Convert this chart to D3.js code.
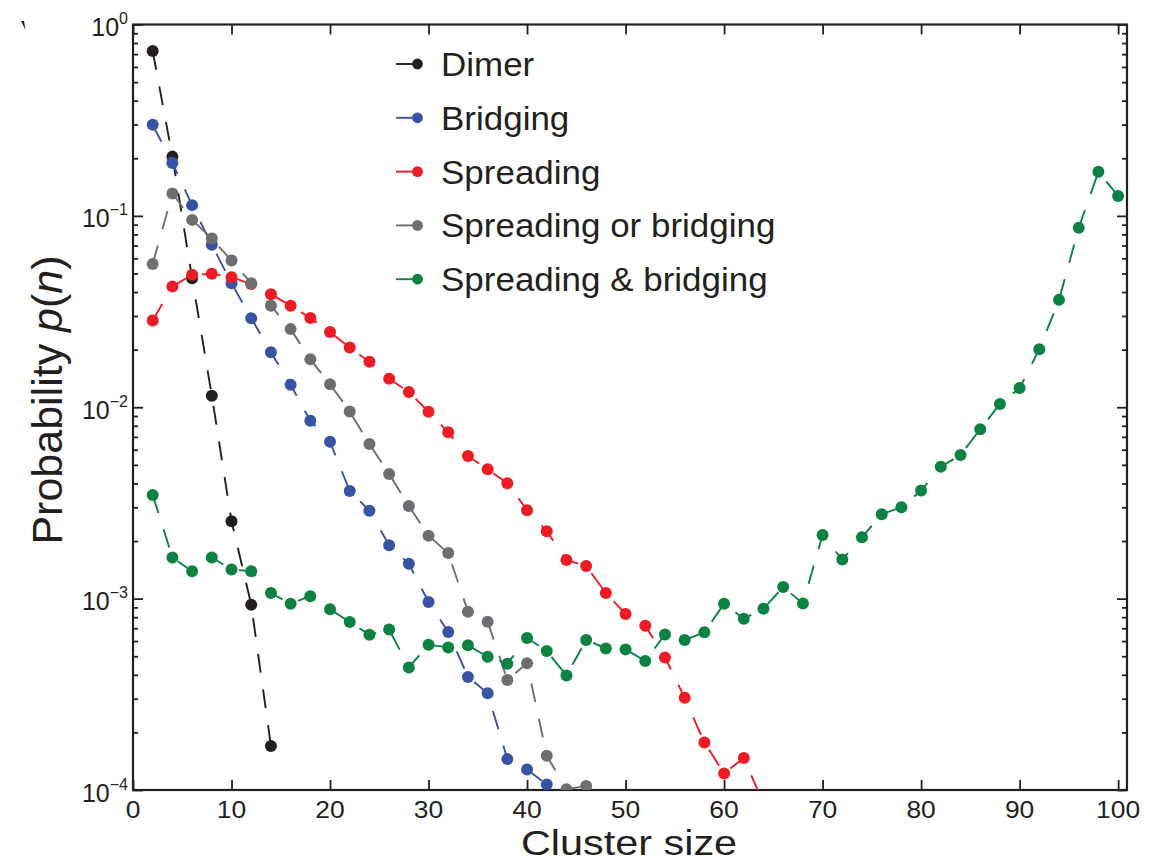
<!DOCTYPE html>
<html><head><meta charset="utf-8">
<script src="https://cdn.jsdelivr.net/npm/d3@7"></script>
<style>
html,body{margin:0;padding:0;background:#fff;}
svg{display:block;font-family:"Liberation Sans",Arial,Helvetica,sans-serif;}
</style></head>
<body>
<svg id="chart" width="1162" height="863"></svg>
<script>
// ---------- data ----------
const clusterSizes = [2,4,6,8,10,12,14,16,18,20,22,24,26,28,30,32,34,36,38,40,42,44,46,48,50,
  52,54,56,58,60,62,64,66,68,70,72,74,76,78,80,82,84,86,88,90,92,94,96,98,100];
const seriesNames = ["Dimer","Bridging","Spreading","Spreading or bridging","Spreading & bridging"];
const seriesColors = ["#231f20","#3853a4","#ed1c24","#6d6e71","#0b8142"];
const dimer = [0.726,0.204,0.0472,0.0115,0.00254,0.00093,0.00017];
const bridging = [0.299,0.189,0.1138,0.0706,0.0445,0.0292,0.0194,0.0131,0.0085,0.0066,0.00365,
  0.00288,0.0019,0.00152,0.00096,0.00067,0.00039,0.00032,0.000145,0.000128,0.000107];
const spreading = [0.0284,0.0428,0.0492,0.0498,0.0478,0.044,0.039,0.0339,0.0293,0.0247,0.0205,
  0.0173,0.0141,0.0120,0.00947,0.0074,0.00556,0.00474,0.00401,0.0029,0.00225,0.00159,0.00148,
  0.00107,0.000831,0.000722,0.000493,0.000303,0.000177,0.000122,0.000147,0.000085];
const spreadingOrBridging = [0.0561,0.131,0.0953,0.0761,0.0584,0.0445,0.0339,0.0256,0.0178,0.0132,
  0.0095,0.00643,0.00448,0.00305,0.00213,0.00173,0.000855,0.000757,0.000376,0.000459,0.000151,
  0.000101,0.000105];
const spreadingAndBridging = [0.00348,0.00164,0.00139,0.00164,0.00142,0.00139,0.00107,0.00094,0.00103,
  0.00088,0.000755,0.000648,0.00069,0.000437,0.000574,0.000556,0.00057,0.000497,0.000457,0.000623,
  0.000532,0.000397,0.000608,0.000549,0.000543,0.000472,0.00065,0.000608,0.000667,0.00094,0.000785,
  0.000885,0.00115,0.000944,0.00215,0.0016,0.00209,0.00276,0.003,0.00367,0.00489,0.00563,0.00767,
  0.0104,0.0126,0.0201,0.0364,0.0866,0.170,0.127];
const seriesValues = [dimer,bridging,spreading,spreadingOrBridging,spreadingAndBridging];
const xTickValues = [0,10,20,30,40,50,60,70,80,90,100];
const yTickExponents = [0,-1,-2,-3,-4];
const xLabel = "Cluster size";

// ---------- layout ----------
const L = 133, R = 1127, T = 24.5, B = 790;
const svg = d3.select("#chart");
const x = d3.scaleLinear().domain([0,100.9]).range([L,R]);
const y = d3.scaleLog().domain([1e-4,1]).range([B,T]);
const axisColor = "#231f20";

svg.append("defs").append("clipPath").attr("id","plotclip")
  .append("rect").attr("x",L).attr("y",T).attr("width",R-L).attr("height",B-T);

// minor ticks for log axis
const minorVals = [];
for (let e=-4;e<0;e++) for (let m=2;m<=9;m++) minorVals.push(m*Math.pow(10,e));

// bottom & top axes (ticks inward)
svg.append("g").attr("transform",`translate(0,${B})`).call(d3.axisBottom(x).tickValues(xTickValues).tickSize(-10).tickFormat(""));
svg.append("g").attr("transform",`translate(0,${T})`).call(d3.axisTop(x).tickValues(xTickValues).tickSize(-10).tickFormat(""));
// left & right axes major / minor
const yMajor = yTickExponents.map(e=>Math.pow(10,e));
svg.append("g").attr("transform",`translate(${L},0)`).call(d3.axisLeft(y).tickValues(yMajor).tickSize(-10).tickFormat(""));
svg.append("g").attr("transform",`translate(${L},0)`).call(d3.axisLeft(y).tickValues(minorVals).tickSize(-5).tickFormat(""));
svg.append("g").attr("transform",`translate(${R},0)`).call(d3.axisRight(y).tickValues(yMajor).tickSize(-10).tickFormat(""));
svg.append("g").attr("transform",`translate(${R},0)`).call(d3.axisRight(y).tickValues(minorVals).tickSize(-5).tickFormat(""));
svg.selectAll(".domain").remove();
svg.selectAll(".tick line").attr("stroke",axisColor).attr("stroke-width",1.8);

// box
svg.append("rect").attr("x",L).attr("y",T).attr("width",R-L).attr("height",B-T)
  .attr("fill","none").attr("stroke",axisColor).attr("stroke-width",2.2);

// x tick labels
svg.append("g").selectAll("text").data(xTickValues).join("text")
  .attr("transform",d=>`translate(${x(d)},818) scale(1.15,1)`)
  .attr("text-anchor","middle").attr("font-size",23).attr("fill",axisColor).text(d=>d);

// y tick labels
const yl = svg.append("g").selectAll("text").data(yTickExponents).join("text")
  .attr("transform",d=>`translate(128,${y(Math.pow(10,d))+11.5})`)
  .attr("text-anchor","end").attr("font-size",25).attr("fill",axisColor);
yl.append("tspan").text("10");
yl.append("tspan").attr("font-size",16).attr("dy",-12).text(d=>d===0?"0":"\u2212"+(-d));

// axis titles
svg.append("text").attr("transform",`translate(629,855) scale(1.15,1)`).attr("text-anchor","middle")
  .attr("font-size",36).attr("fill",axisColor).text(xLabel);
const ylab = svg.append("text").attr("transform","translate(62,400) rotate(-90)")
  .attr("text-anchor","middle").attr("font-size",43).attr("fill",axisColor);
ylab.append("tspan").text("Probability ");
ylab.append("tspan").attr("font-style","italic").text("p");
ylab.append("tspan").text("(");
ylab.append("tspan").attr("font-style","italic").text("n");
ylab.append("tspan").text(")");

// series
const line = d3.line().x(d=>x(d[0])).y(d=>y(d[1]));
const plot = svg.append("g").attr("clip-path","url(#plotclip)");
seriesValues.forEach((vals,i)=>{
  const pts = vals.map((v,j)=>[clusterSizes[j],v]);
  const g = plot.append("g");
  g.append("path").attr("d",line(pts)).attr("fill","none")
    .attr("stroke",seriesColors[i]).attr("stroke-width",1.9).attr("stroke-dasharray","19,17");
  g.selectAll("circle").data(pts).join("circle")
    .attr("cx",d=>x(d[0])).attr("cy",d=>y(d[1])).attr("r",6).attr("fill",seriesColors[i]);
});

// legend
const leg = svg.append("g");
seriesNames.forEach((n,i)=>{
  const cy = 64 + i*53.8;
  leg.append("line").attr("x1",396).attr("x2",417).attr("y1",cy).attr("y2",cy)
    .attr("stroke",seriesColors[i]).attr("stroke-width",1.9);
  leg.append("circle").attr("cx",417.5).attr("cy",cy).attr("r",5.4).attr("fill",seriesColors[i]);
  leg.append("text").attr("transform",`translate(441,${cy+12}) scale(1.06,1)`)
    .attr("font-size",33).attr("fill",axisColor).text(n);
});

// small stray mark at top-left of the original figure
svg.append("path").attr("d","M21,21 L24,21 L25.5,30 Z").attr("fill",axisColor);
</script>
</body></html>
